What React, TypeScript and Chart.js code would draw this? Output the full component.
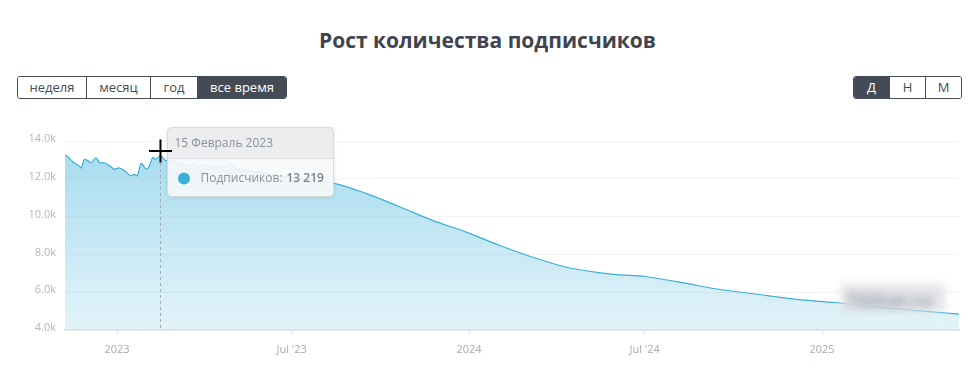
import React, { useEffect, useRef } from "react";
import { Chart, registerables } from "chart.js";

Chart.register(...registerables);

const titleText = "Рост количества подписчиков";
const periodButtons = ["неделя", "месяц", "год", "все время"];
const activePeriod = "все время";
const scaleButtons = ["Д", "Н", "М"];
const activeScale = "Д";

const dates = [
  "2022-11-08", "2022-11-11", "2022-11-15", "2022-11-18", "2022-11-22", "2022-11-25",
  "2022-11-28", "2022-12-02", "2022-12-05", "2022-12-10", "2022-12-14", "2022-12-19",
  "2022-12-22", "2022-12-26", "2022-12-29", "2023-01-03", "2023-01-07", "2023-01-10",
  "2023-01-15", "2023-01-19", "2023-01-22", "2023-01-26", "2023-01-31", "2023-02-03",
  "2023-02-07", "2023-02-10", "2023-02-15", "2023-02-21", "2023-02-26", "2023-03-04",
  "2023-03-10", "2023-03-15", "2023-03-20", "2023-03-25", "2023-04-01", "2023-04-06",
  "2023-04-11", "2023-04-18", "2023-04-24", "2023-04-29", "2023-05-04", "2023-06-01",
  "2023-07-01", "2023-08-14", "2023-09-16", "2023-10-21", "2023-11-24", "2023-12-29",
  "2024-02-02", "2024-03-07", "2024-04-11", "2024-05-16", "2024-06-06", "2024-07-01",
  "2024-08-11", "2024-09-14", "2024-11-05", "2024-12-10", "2025-01-13", "2025-03-12",
  "2025-05-10", "2025-05-23",
];

const subscribers = [
  13260, 13170, 12960, 12820, 12700, 12580,
  13030, 12950, 12850, 13110, 12850, 12850,
  12760, 12620, 12500, 12580, 12480, 12370,
  12160, 12230, 12160, 12820, 12510, 12630,
  13130, 13030, 13219, 12950, 12980, 12900,
  12800, 12720, 12780, 12600, 12720, 12640,
  12630, 12680, 12600, 12720, 12550, 12300,
  12050, 11760, 11230, 10520, 9800, 9180,
  8470, 7850, 7320, 7020, 6920, 6830,
  6490, 6170, 5820, 5590, 5460, 5150,
  4900, 4840,
];

const rangeStart = "2022-11-08";
const rangeEnd = "2025-05-23";

const xTickDates = ["2023-01-01", "2023-07-01", "2024-01-01", "2024-07-01", "2025-01-01"];
const xTickLabels = ["2023", "Jul '23", "2024", "Jul '24", "2025"];
const yTickValues = [4000, 6000, 8000, 10000, 12000, 14000];
const yTickLabels = ["4.0k", "6.0k", "8.0k", "10.0k", "12.0k", "14.0k"];

const tooltipDate = "2023-02-15";
const tooltipTitle = "15 Февраль 2023";
const seriesName = "Подписчиков:";

const LINE = "#3aafd9";
const DARK = "#454b56";
const FONT = '"Open Sans", "Noto Sans", sans-serif';

function toDay(s: string): number {
  const [y, m, d] = s.split("-").map(Number);
  return Date.UTC(y, m - 1, d) / 86400000;
}

function fmtThousands(v: number): string {
  return String(v).replace(/\B(?=(\d{3})+(?!\d))/g, " ");
}

function roundRect(ctx: CanvasRenderingContext2D, x: number, y: number, w: number, h: number, r: number) {
  ctx.beginPath();
  ctx.moveTo(x + r, y);
  ctx.lineTo(x + w - r, y);
  ctx.quadraticCurveTo(x + w, y, x + w, y + r);
  ctx.lineTo(x + w, y + h - r);
  ctx.quadraticCurveTo(x + w, y + h, x + w - r, y + h);
  ctx.lineTo(x + r, y + h);
  ctx.quadraticCurveTo(x, y + h, x, y + h - r);
  ctx.lineTo(x, y + r);
  ctx.quadraticCurveTo(x, y, x + r, y);
  ctx.closePath();
}

const overlayPlugin = {
  id: "overlay",
  afterDraw(chart: any) {
    const { ctx, chartArea, scales } = chart;
    const idx = dates.indexOf(tooltipDate);
    const px = scales.x.getPixelForValue(toDay(tooltipDate));
    const value = subscribers[idx];

    // blurred watermark
    ctx.save();
    ctx.filter = "blur(4px)";
    ctx.fillStyle = "rgba(226,227,230,0.95)";
    ctx.fillRect(chartArea.right - 118, chartArea.bottom - 46, 104, 28);
    ctx.fillStyle = "rgba(140,146,162,0.85)";
    ctx.font = "bold 18px " + FONT;
    ctx.textBaseline = "middle";
    ctx.fillText("TGStat.ru", chartArea.right - 112, chartArea.bottom - 28);
    ctx.restore();

    // dashed crosshair
    const lx = Math.round(px) + 0.5;
    ctx.save();
    ctx.strokeStyle = "#a7abb1";
    ctx.lineWidth = 1;
    ctx.setLineDash([3, 3]);
    ctx.beginPath();
    ctx.moveTo(lx, chartArea.top + 22);
    ctx.lineTo(lx, chartArea.bottom);
    ctx.stroke();
    ctx.restore();

    // tooltip
    const bx = Math.round(px) + 7.5;
    const by = Math.round(chartArea.top) - 13.5;
    const bw = 166;
    const bh = 69;
    const hh = 31;
    ctx.save();
    ctx.shadowColor = "rgba(0,0,0,0.12)";
    ctx.shadowBlur = 4;
    ctx.shadowOffsetY = 1;
    roundRect(ctx, bx, by, bw, bh, 4);
    ctx.fillStyle = "rgba(249,251,252,0.9)";
    ctx.fill();
    ctx.restore();

    ctx.save();
    roundRect(ctx, bx, by, bw, bh, 4);
    ctx.clip();
    ctx.fillStyle = "rgba(236,237,239,0.93)";
    ctx.fillRect(bx, by, bw, hh);
    ctx.strokeStyle = "#dcdee1";
    ctx.lineWidth = 1;
    ctx.beginPath();
    ctx.moveTo(bx, by + hh);
    ctx.lineTo(bx + bw, by + hh);
    ctx.stroke();
    ctx.restore();

    ctx.save();
    roundRect(ctx, bx, by, bw, bh, 4);
    ctx.strokeStyle = "#d7d9dc";
    ctx.lineWidth = 1;
    ctx.stroke();

    ctx.textBaseline = "middle";
    ctx.fillStyle = "#8c9198";
    ctx.font = "12px " + FONT;
    ctx.fillText(tooltipTitle, bx + 7, by + 16);

    ctx.beginPath();
    ctx.arc(bx + 16.5, by + 51, 6, 0, Math.PI * 2);
    ctx.fillStyle = LINE;
    ctx.fill();

    ctx.fillStyle = "#8c9198";
    ctx.font = "12px " + FONT;
    ctx.fillText(seriesName, bx + 33, by + 51);
    ctx.fillStyle = "#7d838b";
    ctx.font = "600 12px " + FONT;
    ctx.fillText(fmtThousands(value), bx + 119, by + 51);
    ctx.restore();

    // mouse cursor (plus)
    ctx.save();
    ctx.strokeStyle = "#000";
    ctx.lineWidth = 2;
    const cy = Math.round(chartArea.top) + 10;
    ctx.beginPath();
    ctx.moveTo(px - 11.5, cy);
    ctx.lineTo(px + 11.5, cy);
    ctx.moveTo(px, cy - 11.5);
    ctx.lineTo(px, cy + 11.5);
    ctx.stroke();
    ctx.restore();
  },
};

function ChartCanvas() {
  const ref = useRef<HTMLCanvasElement | null>(null);
  useEffect(() => {
    if (!ref.current) return;
    const points = dates.map((d, i) => ({ x: toDay(d), y: subscribers[i] }));
    const chart = new Chart(ref.current, {
      type: "line",
      data: {
        datasets: [
          {
            data: points,
            borderColor: LINE,
            borderWidth: 1.2,
            pointRadius: 0,
            tension: 0.3,
            fill: "start",
            backgroundColor: (c: any) => {
              const area = c.chart.chartArea;
              if (!area) return "rgba(58,175,217,0.3)";
              const g = c.chart.ctx.createLinearGradient(0, area.top, 0, area.bottom);
              g.addColorStop(0, "rgba(58,175,217,0.46)");
              g.addColorStop(1, "rgba(58,175,217,0.14)");
              return g;
            },
          },
        ],
      },
      options: {
        responsive: false,
        animation: false,
        events: [],
        layout: { padding: { top: 31, right: 8, left: 0, bottom: 0 } },
        plugins: { legend: { display: false }, tooltip: { enabled: false }, title: { display: false } },
        scales: {
          x: {
            type: "linear",
            min: toDay(rangeStart),
            max: toDay(rangeEnd),
            afterBuildTicks: (s: any) => {
              s.ticks = xTickDates.map((d) => ({ value: toDay(d) }));
            },
            afterFit: (s: any) => {
              s.height = 35;
            },
            ticks: {
              autoSkip: false,
              maxRotation: 0,
              padding: 8,
              color: "#a4abb3",
              font: { family: FONT, size: 11 },
              callback: (_v: any, i: number) => xTickLabels[i],
            },
            grid: { drawOnChartArea: false, tickLength: 5, color: "#e2e4e6" },
            border: { color: "#e6e7e9", width: 2 },
          },
          y: {
            min: 4000,
            max: 14000,
            afterBuildTicks: (s: any) => {
              s.ticks = yTickValues.map((v) => ({ value: v }));
            },
            afterFit: (s: any) => {
              s.width = 57;
            },
            ticks: {
              padding: 9,
              labelOffset: -2,
              color: "#bab5b0",
              font: { family: FONT, size: 11 },
              callback: (_v: any, i: number) => yTickLabels[i],
            },
            grid: { color: "#f3f3f4", drawTicks: false },
            border: { display: false },
          },
        },
      },
      plugins: [overlayPlugin],
    } as any);
    return () => chart.destroy();
  }, []);
  return (
    <canvas
      ref={ref}
      width={959}
      height={255}
      style={{ position: "absolute", left: 0, top: 102, width: 959, height: 255 }}
    />
  );
}

function ButtonGroup({ items, active, widths, left }: { items: string[]; active: string; widths: number[]; left: number }) {
  return (
    <div
      style={{
        position: "absolute",
        left,
        top: 68,
        height: 23,
        display: "flex",
        border: `1px solid ${DARK}`,
        borderRadius: 3,
        overflow: "hidden",
        boxSizing: "border-box",
      }}
    >
      {items.map((t, i) => (
        <div
          key={t}
          style={{
            width: widths[i] - (i === 0 ? 1 : 0) - (i === items.length - 1 ? 1 : 0),
            boxSizing: "border-box",
            borderRight: i < items.length - 1 ? `1px solid ${DARK}` : "none",
            background: t === active ? DARK : "#fff",
            color: t === active ? "#fff" : DARK,
            font: `13px ${FONT}`,
            lineHeight: "21px",
            textAlign: "center",
          }}
        >
          {t}
        </div>
      ))}
    </div>
  );
}

export default function App() {
  return (
    <div style={{ position: "relative", width: 959, height: 363, fontFamily: FONT }}>
      <div
        style={{
          position: "absolute",
          top: 17,
          left: 0,
          width: 959,
          textAlign: "center",
          font: `700 21px ${FONT}`,
          color: "#3f4450",
          lineHeight: "30px",
        }}
      >
        {titleText}
      </div>
      <ButtonGroup items={periodButtons} active={activePeriod} widths={[70, 64, 47, 89]} left={9} />
      <ButtonGroup items={scaleButtons} active={activeScale} widths={[37, 36, 36]} left={845} />
      <ChartCanvas />
    </div>
  );
}
